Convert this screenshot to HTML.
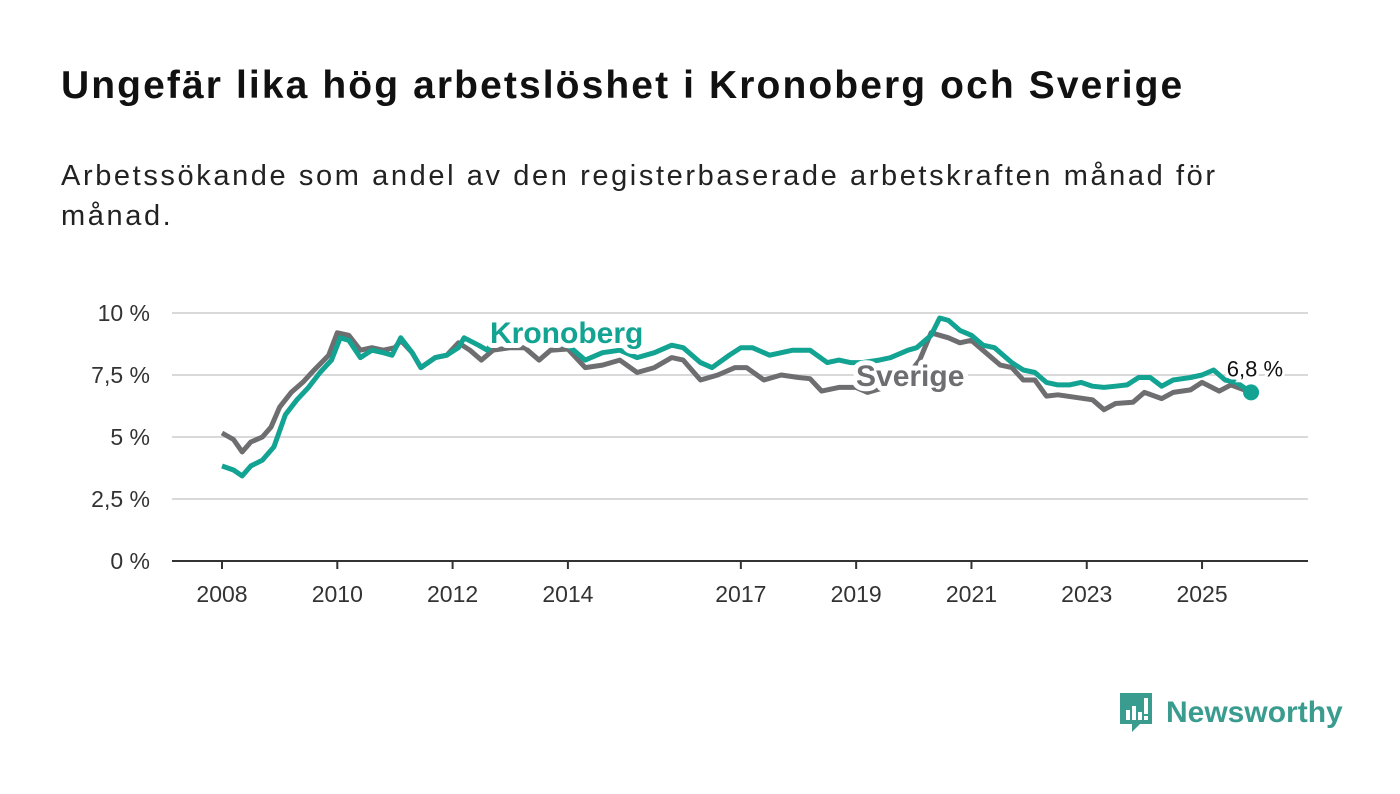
<!DOCTYPE html>
<html><head><meta charset="utf-8">
<style>
body{margin:0;background:#fff;width:1400px;height:794px;overflow:hidden;font-family:"Liberation Sans","DejaVu Sans",sans-serif;}
#title{position:absolute;left:61px;top:64px;font-size:39px;font-weight:bold;color:#111;margin:0;letter-spacing:2.1px;white-space:nowrap}
#sub{position:absolute;left:61px;top:156px;font-size:29px;color:#222;line-height:40px;width:1200px;letter-spacing:2.6px}
svg{position:absolute;left:0;top:0}
</style></head><body>
<h1 id="title">Ungefär lika hög arbetslöshet i Kronoberg och Sverige</h1>
<div id="sub">Arbetssökande som andel av den registerbaserade arbetskraften månad för månad.</div>
<svg id="chart" width="1400" height="794"></svg>
<div style="position:absolute;left:1118px;top:690px;display:flex;align-items:center">
<svg width="36" height="46" style="position:static" viewBox="0 0 36 46"><path d="M2 3h32v31H22l-8 8v-8H2z" fill="#3a9b8f"/><rect x="8" y="20" width="4" height="10" fill="#fff"/><rect x="14" y="16" width="4" height="14" fill="#fff"/><rect x="20" y="22" width="4" height="8" fill="#fff"/><rect x="26" y="8" width="4" height="16" fill="#fff"/><rect x="26" y="26" width="4" height="4" fill="#fff"/></svg>
<span style="font-size:30px;color:#3a9b8f;margin-left:12px;font-weight:bold">Newsworthy</span></div>
<script>
const yTicks=[0,2.5,5,7.5,10];
const yTickLabels=["0 %","2,5 %","5 %","7,5 %","10 %"];
const xTicks=[2008,2010,2012,2014,2017,2019,2021,2023,2025];
const kDates=[2008.0,2008.2,2008.35,2008.5,2008.7,2008.9,2009.1,2009.3,2009.5,2009.7,2009.9,2010.05,2010.2,2010.4,2010.6,2010.8,2010.95,2011.1,2011.3,2011.45,2011.7,2011.9,2012.1,2012.2,2012.45,2012.6,2012.75,2013.0,2013.3,2013.6,2014.0,2014.3,2014.6,2014.9,2015.2,2015.5,2015.8,2016.0,2016.3,2016.5,2016.8,2017.0,2017.2,2017.5,2017.7,2017.9,2018.2,2018.5,2018.7,2018.9,2019.1,2019.4,2019.6,2019.9,2020.05,2020.3,2020.45,2020.6,2020.8,2021.0,2021.2,2021.4,2021.7,2021.9,2022.1,2022.3,2022.5,2022.7,2022.9,2023.1,2023.3,2023.5,2023.7,2023.9,2024.1,2024.3,2024.5,2024.8,2025.0,2025.2,2025.4,2025.6,2025.85];
const kValues=[3.83,3.67,3.43,3.83,4.07,4.6,5.9,6.5,7.0,7.6,8.1,9.0,8.9,8.2,8.5,8.4,8.3,9.0,8.4,7.8,8.2,8.3,8.6,9.0,8.7,8.5,9.0,9.0,8.9,8.8,8.7,8.1,8.4,8.5,8.2,8.4,8.7,8.6,8.0,7.8,8.3,8.6,8.6,8.3,8.4,8.5,8.5,8.0,8.1,8.0,8.0,8.1,8.2,8.5,8.6,9.1,9.8,9.7,9.3,9.1,8.7,8.6,8.0,7.7,7.6,7.2,7.1,7.1,7.2,7.05,7.0,7.05,7.1,7.4,7.4,7.05,7.3,7.4,7.5,7.7,7.3,7.2,6.8];
const sDates=[2008.0,2008.2,2008.35,2008.5,2008.7,2008.85,2009.0,2009.2,2009.4,2009.6,2009.85,2010.0,2010.2,2010.4,2010.6,2010.8,2011.0,2011.1,2011.3,2011.45,2011.7,2011.9,2012.1,2012.3,2012.5,2012.7,2013.0,2013.25,2013.5,2013.7,2014.0,2014.3,2014.6,2014.9,2015.2,2015.5,2015.8,2016.0,2016.3,2016.6,2016.9,2017.1,2017.4,2017.7,2018.0,2018.2,2018.4,2018.7,2019.0,2019.2,2019.5,2019.9,2020.1,2020.3,2020.6,2020.8,2021.0,2021.3,2021.5,2021.7,2021.9,2022.1,2022.3,2022.5,2022.8,2023.1,2023.3,2023.5,2023.8,2024.0,2024.3,2024.5,2024.8,2025.0,2025.3,2025.5,2025.85];
const sValues=[5.16,4.9,4.4,4.8,5.0,5.4,6.2,6.8,7.2,7.7,8.3,9.2,9.1,8.5,8.6,8.5,8.6,8.9,8.4,7.8,8.2,8.3,8.8,8.5,8.1,8.5,8.6,8.6,8.1,8.5,8.55,7.8,7.9,8.1,7.6,7.8,8.2,8.1,7.3,7.5,7.8,7.8,7.3,7.5,7.4,7.35,6.85,7.0,7.0,6.8,7.0,7.5,8.1,9.2,9.0,8.8,8.9,8.3,7.9,7.8,7.3,7.3,6.65,6.7,6.6,6.5,6.1,6.35,6.4,6.8,6.55,6.8,6.9,7.2,6.85,7.1,6.8];
const lastLabel="6,8 %";
const NS="http://www.w3.org/2000/svg";
const svg=document.getElementById('chart');
const X=d=>222+(d-2008)*57.65;
const Y=v=>561-v*24.8;
function mk(t,a){const e=document.createElementNS(NS,t);for(const k in a)e.setAttribute(k,a[k]);svg.appendChild(e);return e;}
yTicks.forEach((v,i)=>{
 if(v>0){const g=mk('line',{x1:172,x2:1308,y1:Y(v),y2:Y(v),stroke:'#d9d9d9','stroke-width':2});
 
 }
 const t=mk('text',{x:150,y:Y(v)+8,'text-anchor':'end','font-size':23,fill:'#333','font-family':'Liberation Sans, sans-serif'});
 t.textContent=yTickLabels[i];
 
 
});
const ax=mk('line',{x1:172,x2:1308,y1:561,y2:561,stroke:'#333','stroke-width':2});


xTicks.forEach(d=>{
 const tk=mk('line',{x1:X(d),x2:X(d),y1:561,y2:569,stroke:'#333','stroke-width':2});
 
 
 const t=mk('text',{x:X(d),y:602,'text-anchor':'middle','font-size':23,fill:'#333','font-family':'Liberation Sans, sans-serif'});
 t.textContent=d;
 
 
});
function line(ds,vs,c,name){
 const p=ds.map((d,i)=>(i?'L':'M')+X(d).toFixed(1)+' '+Y(vs[i]).toFixed(1)).join(' ');
 const e=mk('path',{d:p,fill:'none',stroke:c,'stroke-width':5,'stroke-linejoin':'round'});
 
 
}
line(sDates,sValues,'#6e6d70','sverige-line');
line(kDates,kValues,'#12a392','kronoberg-line');
function lab(x,y,txt,c,name){
 const h=mk('text',{x:x,y:y,'font-size':30,'font-weight':'bold',fill:'#fff',stroke:'#fff','stroke-width':10,'stroke-linejoin':'round','font-family':'Liberation Sans, sans-serif'});h.textContent=txt;
 
 
 const t=mk('text',{x:x,y:y,'font-size':30,'font-weight':'bold',fill:c,'font-family':'Liberation Sans, sans-serif'});t.textContent=txt;
 
 
}
lab(490,343,'Kronoberg','#12a392','kronoberg-label');
lab(856,386,'Sverige','#6e6d70','sverige-label');
const lx=X(kDates[kDates.length-1]),ly=Y(kValues[kValues.length-1]);
const dot=mk('circle',{cx:lx,cy:ly,r:8,fill:'#12a392'});


const vl=mk('text',{x:lx+32,y:ly-16,'text-anchor':'end','font-size':22,fill:'#111',stroke:'#fff','stroke-width':6,'paint-order':'stroke','font-family':'Liberation Sans, sans-serif'});
vl.textContent=lastLabel;


</script>
</body></html>
